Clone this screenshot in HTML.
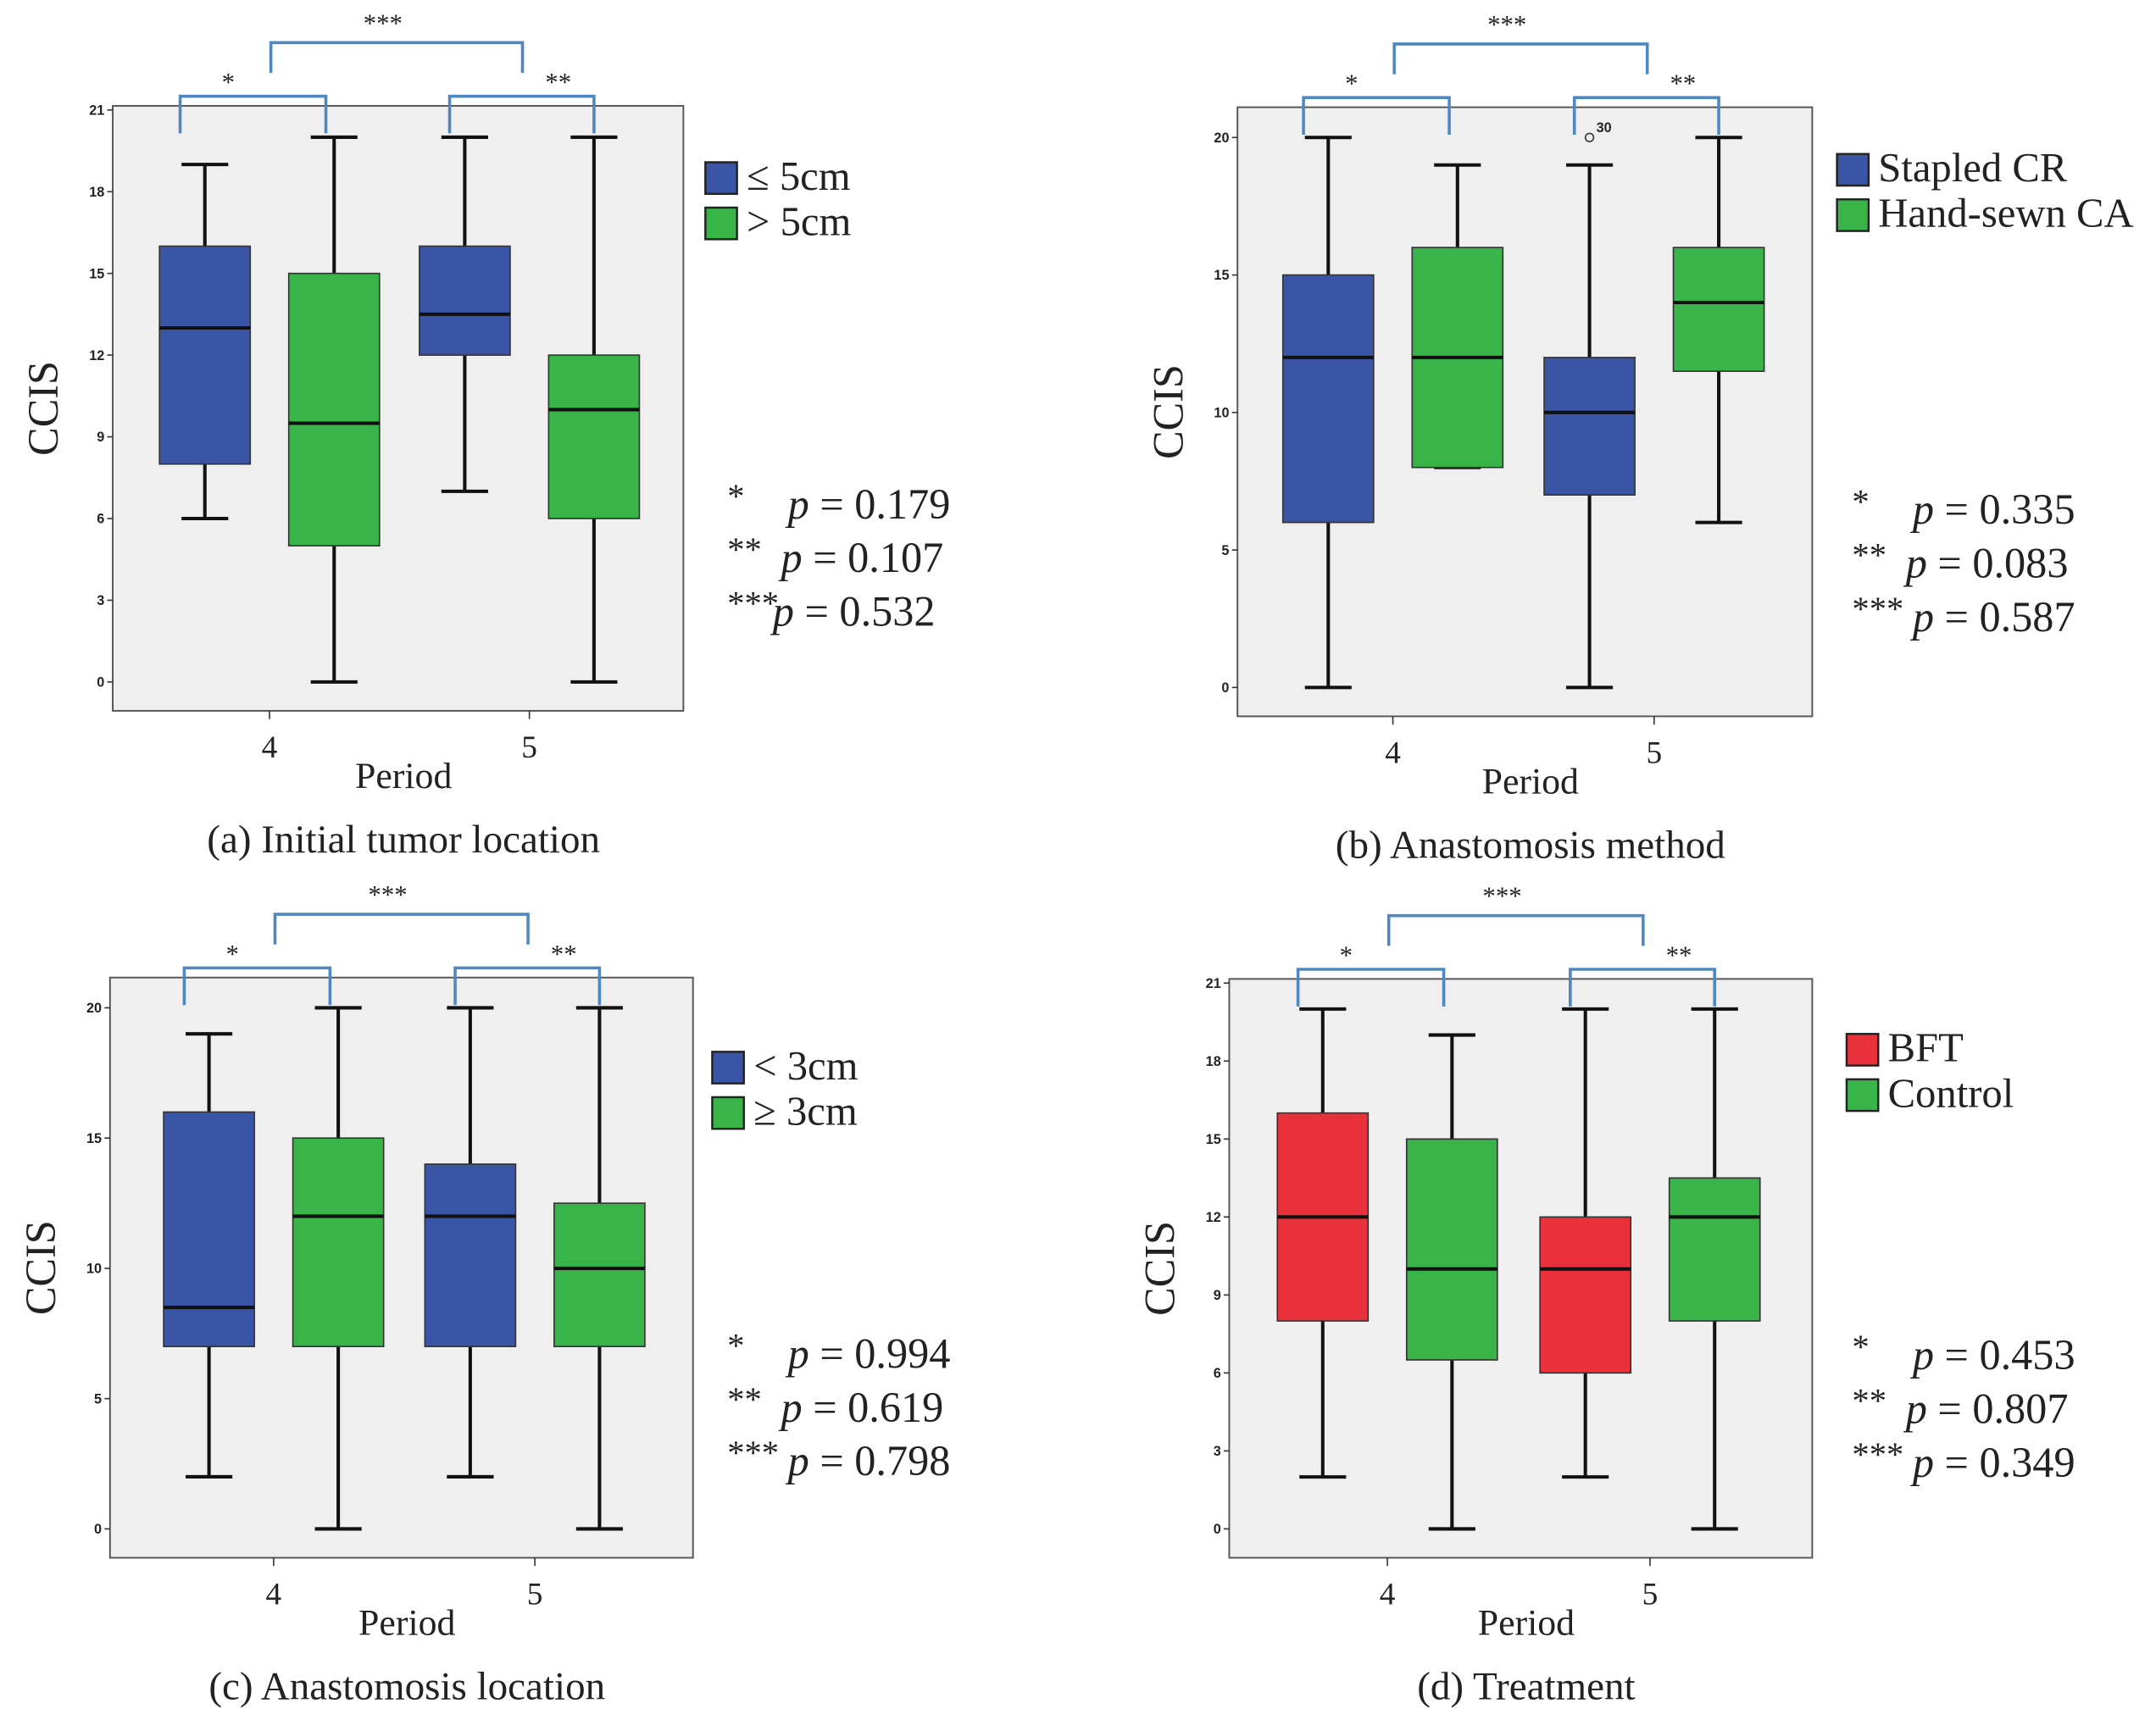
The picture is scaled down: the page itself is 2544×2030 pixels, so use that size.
<!DOCTYPE html>
<html><head><meta charset="utf-8"><style>
html,body{margin:0;padding:0;background:#fff;}
svg{display:block;}
.serif{font-family:"Liberation Serif","DejaVu Serif",serif;}
.tick{font-family:"Liberation Sans","DejaVu Sans",sans-serif;font-size:10px;font-weight:bold;fill:#222;}
</style></head><body>
<svg id="chart" width="2544" height="2030" viewBox="0 0 1568 1251" preserveAspectRatio="none" xmlns="http://www.w3.org/2000/svg"></svg>
<script>
// ---- Data ----
const periods = ["4", "5"];
// box stats: [min, q1, median, q3, max]
const aSeriesA = [[6, 8, 13, 16, 19], [7, 12, 13.5, 16, 20]];
const aSeriesB = [[0, 5, 9.5, 15, 20], [0, 6, 10, 12, 20]];
const aTicks = [0, 3, 6, 9, 12, 15, 18, 21];
const aLegend = ["\u2264 5cm", "> 5cm"];
const aPvals = ["0.179", "0.107", "0.532"];

const bSeriesA = [[0, 6, 12, 15, 20], [0, 7, 10, 12, 19]];
const bSeriesB = [[8, 8, 12, 16, 19], [6, 11.5, 14, 16, 20]];
const bOutliers = [[1, 20, "30"]];
const bTicks = [0, 5, 10, 15, 20];
const bLegend = ["Stapled CR", "Hand-sewn CA"];
const bPvals = ["0.335", "0.083", "0.587"];

const cSeriesA = [[2, 7, 8.5, 16, 19], [2, 7, 12, 14, 20]];
const cSeriesB = [[0, 7, 12, 15, 20], [0, 7, 10, 12.5, 20]];
const cTicks = [0, 5, 10, 15, 20];
const cLegend = ["< 3cm", "\u2265 3cm"];
const cPvals = ["0.994", "0.619", "0.798"];

const dSeriesA = [[2, 8, 12, 16, 20], [2, 6, 10, 12, 20]];
const dSeriesB = [[0, 6.5, 10, 15, 19], [0, 8, 12, 13.5, 20]];
const dTicks = [0, 3, 6, 9, 12, 15, 18, 21];
const dLegend = ["BFT", "Control"];
const dPvals = ["0.453", "0.807", "0.349"];

const NS = "http://www.w3.org/2000/svg";
const svg = document.getElementById('chart');
function mk(tag, attrs, parent) {
  const e = document.createElementNS(NS, tag);
  for (const k in attrs) e.setAttribute(k, attrs[k]);
  (parent || svg).appendChild(e);
  return e;
}

function panel(p) {
  const g = mk('g', {});
  
  
  const y = v => p.y0 - (p.y0 - p.yTop) * v / p.yTopVal;
  const xp = i => p.px[i];
  const bg = mk('rect', {x: p.bx0, y: p.by0, width: p.bx1 - p.bx0, height: p.by1 - p.by0, fill: '#efefef', stroke: '#555', 'stroke-width': 1.2}, g);
  
  
  p.ticks.forEach(t => {
    mk('line', {x1: p.bx0 - 4, x2: p.bx0, y1: y(t), y2: y(t), stroke: '#333', 'stroke-width': 1}, g);
    const tl = mk('text', {x: p.bx0 - 6, y: y(t) + 3.5, 'text-anchor': 'end', class: 'tick'}, g);
    tl.textContent = t;
    
    
  });
  periods.forEach((lab, i) => {
    mk('line', {x1: xp(i), x2: xp(i), y1: p.by1, y2: p.by1 + 6, stroke: '#333', 'stroke-width': 1}, g);
    const tl = mk('text', {x: xp(i), y: p.by1 + 34, 'text-anchor': 'middle', class: 'serif', 'font-size': 23, fill: '#222'}, g);
    tl.textContent = lab;
    
    
  });
  const off = 47, w = 66, cap = 17;
  const series = [[p.sA, p.colA], [p.sB, p.colB]];
  periods.forEach((lab, i) => {
    series.forEach(([s, col], k) => {
      const st = s[i];
      const cx = xp(i) + (k === 0 ? -off : off);
      const bx = mk('g', {}, g);
      
      
      mk('line', {x1: cx, x2: cx, y1: y(st[0]), y2: y(st[4]), stroke: '#111', 'stroke-width': 2.5}, bx);
      mk('line', {x1: cx - cap, x2: cx + cap, y1: y(st[0]), y2: y(st[0]), stroke: '#111', 'stroke-width': 2.5}, bx);
      mk('line', {x1: cx - cap, x2: cx + cap, y1: y(st[4]), y2: y(st[4]), stroke: '#111', 'stroke-width': 2.5}, bx);
      mk('rect', {x: cx - w / 2, y: y(st[3]), width: w, height: Math.max(0.5, y(st[1]) - y(st[3])), fill: col, stroke: '#333', 'stroke-width': 1}, bx);
      mk('line', {x1: cx - w / 2, x2: cx + w / 2, y1: y(st[2]), y2: y(st[2]), stroke: '#111', 'stroke-width': 2.5}, bx);
    });
  });
  (p.outliers || []).forEach(o => {
    const cx = xp(o[0]) - off;
    const c = mk('circle', {cx: cx, cy: y(o[1]), r: 3, fill: 'none', stroke: '#333', 'stroke-width': 1}, g);
    
    
    const t = mk('text', {x: cx + 5, y: y(o[1]) - 4, class: 'tick', 'font-size': 9}, g);
    t.textContent = o[2];
    
    
  });
  const br = (x1, x2, yt, yb, lab, lx, ly, name) => {
    const pa = mk('path', {d: `M${x1},${yb} L${x1},${yt} L${x2},${yt} L${x2},${yb}`, fill: 'none', stroke: '#4f88c0', 'stroke-width': 2.2}, g);
    
    
    const t = mk('text', {x: lx, y: ly, 'text-anchor': 'middle', class: 'serif', 'font-size': 19, fill: '#222'}, g);
    t.textContent = lab;
    
    
  };
  const bTop = p.by0 - 7, sTop = p.by0 - 46;
  br(xp(0) - 65, xp(0) + 41, bTop, bTop + 27, '*', xp(0) - 30, bTop - 4, 'bracket-single');
  br(xp(1) - 58, xp(1) + 47, bTop, bTop + 27, '**', xp(1) + 21, bTop - 4, 'bracket-double');
  br(xp(0) + 1, xp(1) - 5, sTop, sTop + 22, '***', (xp(0) + xp(1)) / 2 - 12, sTop - 8, 'bracket-triple');
  const yt = mk('text', {transform: `translate(${p.bx0 - 40},${(p.by0 + p.by1) / 2}) rotate(-90)`, 'text-anchor': 'middle', class: 'serif', 'font-size': 31, fill: '#222'}, g);
  yt.textContent = 'CCIS';
  
  
  const xt = mk('text', {x: (p.bx0 + p.bx1) / 2 + 4, y: p.by1 + 56, 'text-anchor': 'middle', class: 'serif', 'font-size': 27, fill: '#222'}, g);
  xt.textContent = 'Period';
  
  
  const cp = mk('text', {x: (p.bx0 + p.bx1) / 2 + 4, y: p.by1 + 103, 'text-anchor': 'middle', class: 'serif', 'font-size': 29, fill: '#222'}, g);
  cp.textContent = p.caption;
  
  
  [[p.legend[0], p.colA], [p.legend[1], p.colB]].forEach(([lab, col], k) => {
    const ly = p.legY + k * 33;
    const sq = mk('rect', {x: p.legX, y: ly, width: 23, height: 23, fill: col, stroke: '#222', 'stroke-width': 1.5}, g);
    
    
    const t = mk('text', {x: p.legX + 30, y: ly + 20, class: 'serif', 'font-size': 30, fill: '#222'}, g);
    t.textContent = lab;
    
    
  });
  const stars = ['*', '**', '***'];
  p.pvals.forEach((v, k) => {
    const by = p.pY + k * 39;
    const s = mk('text', {x: p.pX, y: by - 8, class: 'serif', 'font-size': 25, fill: '#222'}, g);
    s.textContent = stars[k];
    
    
    const t = mk('text', {x: p.pX + p.pOff[k], y: by, class: 'serif', 'font-size': 31, fill: '#222'}, g);
    t.innerHTML = '<tspan font-style="italic">p</tspan> = ' + v;
    
    
  });
}

panel({id: 'a', bx0: 82, bx1: 497, by0: 77, by1: 517, y0: 496, yTop: 80, yTopVal: 21, px: [196, 385],
  sA: aSeriesA, sB: aSeriesB, colA: '#3a55a6', colB: '#38b449', ticks: aTicks, legend: aLegend, pvals: aPvals,
  legX: 513, legY: 118, pX: 529, pY: 377, pOff: [44, 39, 33], caption: '(a) Initial tumor location'});
panel({id: 'b', bx0: 900, bx1: 1318, by0: 78, by1: 521, y0: 500, yTop: 100, yTopVal: 20, px: [1013, 1203],
  sA: bSeriesA, sB: bSeriesB, colA: '#3a55a6', colB: '#38b449', ticks: bTicks, legend: bLegend, pvals: bPvals,
  outliers: bOutliers, legX: 1336, legY: 112, pX: 1347, pY: 381, pOff: [44, 39, 44], caption: '(b) Anastomosis method'});
panel({id: 'c', bx0: 80, bx1: 504, by0: 711, by1: 1133, y0: 1112, yTop: 733, yTopVal: 20, px: [199, 389],
  sA: cSeriesA, sB: cSeriesB, colA: '#3a55a6', colB: '#38b449', ticks: cTicks, legend: cLegend, pvals: cPvals,
  legX: 518, legY: 765, pX: 529, pY: 995, pOff: [44, 39, 44], caption: '(c) Anastomosis location'});
panel({id: 'd', bx0: 894, bx1: 1318, by0: 712, by1: 1133, y0: 1112, yTop: 715, yTopVal: 21, px: [1009, 1200],
  sA: dSeriesA, sB: dSeriesB, colA: '#e8313b', colB: '#38b449', ticks: dTicks, legend: dLegend, pvals: dPvals,
  legX: 1343, legY: 752, pX: 1347, pY: 996, pOff: [44, 39, 44], caption: '(d) Treatment'});
</script>
</body></html>
